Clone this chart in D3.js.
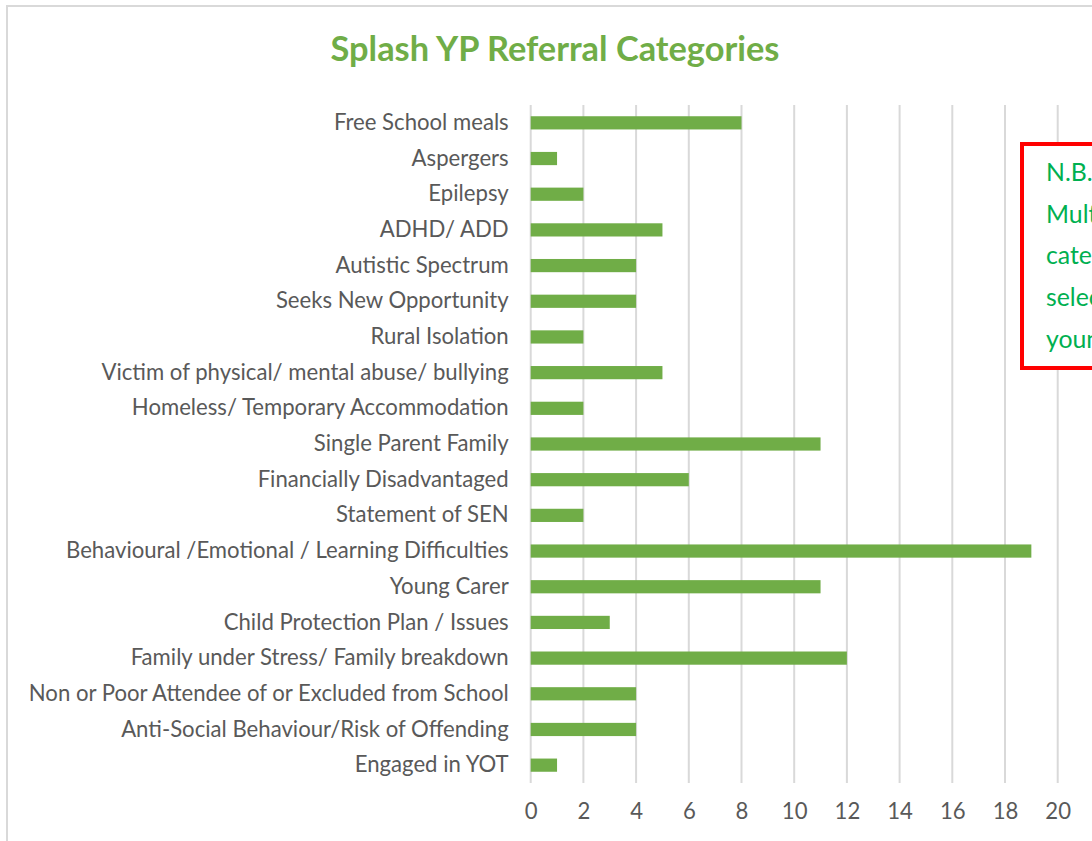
<!DOCTYPE html>
<html>
<head>
<meta charset="utf-8">
<script src="https://cdn.jsdelivr.net/npm/d3@7"></script>
<style>
  html, body { margin: 0; padding: 0; background: #fff; }
  svg { display: block; font-family: Lato, "Open Sans", sans-serif; }
</style>
</head>
<body>
<svg id="chart" width="1092" height="841"></svg>
<script>
// Categories, top to bottom
const categories = [
  'Free School meals',
  'Aspergers',
  'Epilepsy',
  'ADHD/ ADD',
  'Autistic Spectrum',
  'Seeks New Opportunity',
  'Rural Isolation',
  'Victim of physical/ mental abuse/ bullying',
  'Homeless/ Temporary Accommodation',
  'Single Parent Family',
  'Financially Disadvantaged',
  'Statement of SEN',
  'Behavioural /Emotional / Learning Difficulties',
  'Young Carer',
  'Child Protection Plan / Issues',
  'Family under Stress/ Family breakdown',
  'Non or Poor Attendee of or Excluded from School',
  'Anti-Social Behaviour/Risk of Offending',
  'Engaged in YOT'
];
const counts = [8, 1, 2, 5, 4, 4, 2, 5, 2, 11, 6, 2, 19, 11, 3, 12, 4, 4, 1];
const xTicks = [0, 2, 4, 6, 8, 10, 12, 14, 16, 18, 20];
const noteLines = ['N.B.', 'Multiple', 'categories', 'selected for', 'young people'];

const svg = d3.select('#chart');
const barColor = '#70AD47';
const gridColor = '#D9D9D9';
const textColor = '#595959';

// scale a font size so a sample text gets a given width
function fitSize(text, weight, target) {
  const t = svg.append('text')
    .style('font-size', '20px')
    .style('font-weight', weight)
    .text(text);
  const w = t.node().getComputedTextLength();
  t.remove();
  return 20 * target / w;
}

const labelSize = fitSize('Behavioural /Emotional / Learning Difficulties', 'normal', 443);
const titleSize = fitSize('Splash YP Referral Categories', 'bold', 449);

// Chart frame (extends past the window)
svg.append('rect')
  .attr('x', 7).attr('y', 6)
  .attr('width', 1200).attr('height', 900)
  .attr('fill', '#fff')
  .attr('stroke', gridColor)
  .attr('stroke-width', 2);

// Title
svg.append('text')
  .attr('x', 555).attr('y', 61)
  .attr('text-anchor', 'middle')
  .style('font-size', titleSize + 'px')
  .style('font-weight', 'bold')
  .style('fill', barColor)
  .text('Splash YP Referral Categories');

const plot = { left: 530.7, right: 1057.7, top: 105, bottom: 783 };

const x = d3.scaleLinear().domain([0, 20]).range([plot.left, plot.right]);
const y = d3.scaleBand().domain(categories).range([plot.top, plot.bottom])
  .paddingInner(0.63).paddingOuter(0.315);

// Gridlines
svg.append('g')
  .selectAll('line')
  .data(xTicks)
  .join('line')
  .attr('x1', d => x(d)).attr('x2', d => x(d))
  .attr('y1', plot.top).attr('y2', plot.bottom)
  .attr('stroke', gridColor)
  .attr('stroke-width', 2);

// Bars
svg.append('g')
  .selectAll('rect')
  .data(categories)
  .join('rect')
  .attr('x', x(0))
  .attr('y', d => y(d))
  .attr('width', (d, i) => x(counts[i]) - x(0))
  .attr('height', y.bandwidth())
  .attr('fill', barColor);

// X axis labels
const xAxis = d3.axisBottom(x).tickValues(xTicks).tickSize(0).tickPadding(20);
const gx = svg.append('g')
  .attr('transform', `translate(0, ${plot.bottom})`)
  .call(xAxis);
gx.select('.domain').remove();
gx.selectAll('text')
  .style('font-size', labelSize + 'px')
  .style('font-family', 'Lato, sans-serif')
  .style('fill', textColor);

// Category labels
const yAxis = d3.axisLeft(y).tickSize(0).tickPadding(22);
const gy = svg.append('g')
  .attr('transform', `translate(${plot.left}, 0)`)
  .call(yAxis);
gy.select('.domain').remove();
gy.selectAll('text')
  .style('font-size', labelSize + 'px')
  .style('font-family', 'Lato, sans-serif')
  .style('fill', textColor);

// Note box, cut off at the right edge
svg.append('rect')
  .attr('x', 1022).attr('y', 144)
  .attr('width', 200).attr('height', 224)
  .attr('fill', '#fff')
  .attr('stroke', '#FF0000')
  .attr('stroke-width', 4);

svg.append('g')
  .selectAll('text')
  .data(noteLines)
  .join('text')
  .attr('x', 1046)
  .attr('y', (d, i) => 181 + i * 41.7)
  .style('font-size', (labelSize * 1.12) + 'px')
  .style('fill', '#00B050')
  .text(d => d);
</script>
</body>
</html>
